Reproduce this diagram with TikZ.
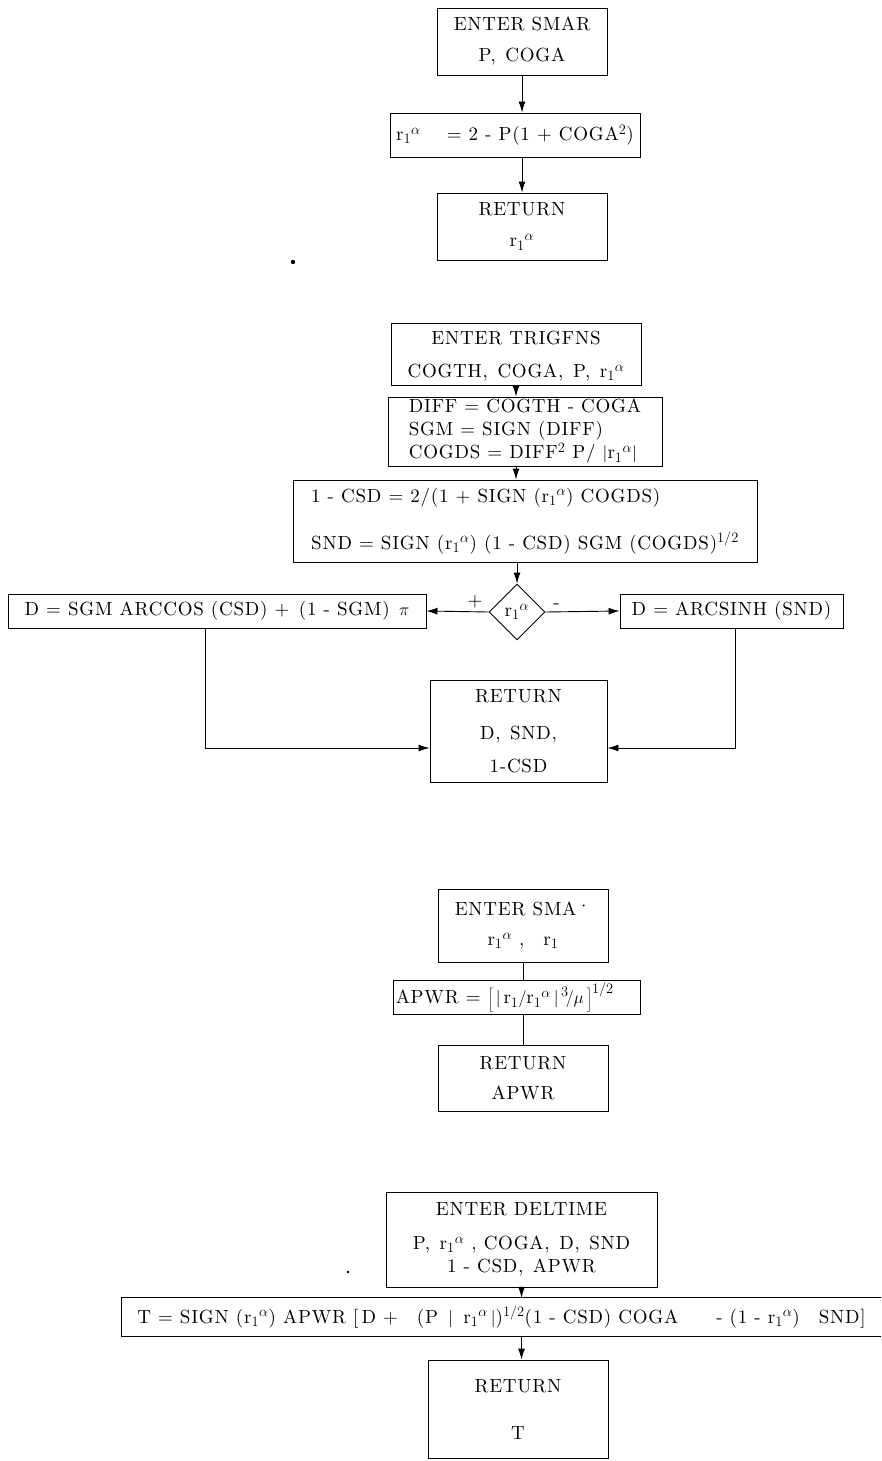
\documentclass[tikz,border=0pt]{standalone}
\usepackage{fontspec}
\setmainfont{lmroman10-regular.otf}[LetterSpace=4]
\usetikzlibrary{arrows.meta,shapes.geometric}
\DeclareMathSizes{19}{19}{15}{12}
\newcommand\fs{\fontsize{19}{22}\selectfont}
\newcommand\ra{r$_1{}^{\alpha}$}
\tikzset{
  box/.style={draw, line width=0.9pt, inner sep=0pt, font=\fs},
  arr/.style={line width=0.9pt, -{Latex[length=11pt,width=7pt]}},
  ln/.style={line width=0.9pt},
}
\begin{document}
\begin{tikzpicture}[x=1pt,y=-1pt]
\useasboundingbox (0,0) rectangle (881,1461);

% ---- SMAR
\node[box, minimum width=170, minimum height=67, align=center] (smarin) at (522,41.5) {ENTER SMAR\\[9pt]P,\enspace COGA};
\node[box, minimum width=250, minimum height=44] (smarf) at (515,135) {\ra\quad\ = 2 - P(1 + COGA$^2$)};
\node[box, minimum width=170, minimum height=67, align=center] (smarr) at (522,226.5) {RETURN\\[9pt]\ra};
\draw[arr] (smarin.south) -- (smarin.south |- smarf.north);
\draw[arr] (smarf.south -| smarr.north) -- (smarr.north);
\fill (293,262) circle (2.2);

% ---- TRIGFNS
\node[box, minimum width=250, minimum height=62, align=center] (trigin) at (516,354) {\rule{0pt}{18pt}ENTER TRIGFNS\\[11pt]COGTH,\enspace COGA,\enspace P,\enspace \ra};
\node[box, minimum width=274, minimum height=69, align=left, font=\fontsize{19}{23}\selectfont] (diff) at (525,431.5)
  {DIFF = COGTH - COGA\\SGM = SIGN (DIFF)\\COGDS = DIFF$^2$ P/ $\left|\mathrm{r}_1{}^{\alpha}\right|$};
\node[box, minimum width=464, minimum height=82, align=left] (csd) at (525,521)
  {1 - CSD = 2/(1 + SIGN (\ra) COGDS)\\[25pt]SND = SIGN (\ra) (1 - CSD) SGM (COGDS)$^{1/2}$};
\node[draw, diamond, line width=0.9pt, minimum width=56, minimum height=56, inner sep=0pt, font=\fs] (dec) at (517,612) {\ra};
\node[box, minimum width=418, minimum height=34] (dl) at (217,611) {D = SGM ARCCOS (CSD) +\enspace (1 - SGM)\enspace $\pi$};
\node[box, minimum width=223, minimum height=34] (dr) at (731.5,611) {D = ARCSINH (SND)};
\node[box, minimum width=177, minimum height=102, align=center] (ret2) at (518.5,731) {RETURN\\[15pt]D,\enspace SND,\\[11pt]1-CSD};
\draw[arr] (trigin.south) -- (trigin.south |- diff.north);
\draw[arr] (diff.south -| trigin.south) -- (trigin.south |- csd.north);
\draw[arr] (csd.south -| dec.north) -- (dec.north);
\draw[arr] (dec.west) -- node[above, pos=0.22, font=\fs]{+} (dl.east);
\draw[arr] (dec.east) -- node[above, pos=0.15, font=\fs]{-} (dr.west);
\coordinate (lb) at (205,748);
\coordinate (rb) at (735,748);
\draw[arr] (dl.south -| lb) -- (lb) -- (ret2.west |- lb);
\draw[arr] (dr.south -| rb) -- (rb) -- (ret2.east |- rb);

% ---- SMA
\node[box, minimum width=170, minimum height=73, align=center] (smain) at (523,925.5) {ENTER SMA\raisebox{3pt}{·}\\[8pt]\ra\ ,\quad r$_1$};
\node[box, minimum width=247, minimum height=34] (apwr) at (516.5,997) {};
\node[anchor=west, font=\fs, inner sep=0pt] (apwrt) at ([xshift=3]apwr.west)
  {APWR = $\biggl[\,\Bigl|\,\mathrm{r}_1/\mathrm{r}_1{}^{\alpha}\,\Bigr|^{\,3}\!/\mu\,\biggr]^{1/2}$};
\node[box, minimum width=170, minimum height=66, align=center] (smar2) at (523,1078) {RETURN\\[8pt]APWR};
\draw[ln] (smain.south) -- (smain.south |- apwr.north);
\draw[ln] (apwr.south -| smain.south) -- (smar2.north);

% ---- DELTIME
\node[box, minimum width=271, minimum height=95, align=center] (delin) at (521.5,1239.5)
  {ENTER DELTIME\\[12pt]P,\enspace \ra\ , COGA,\enspace D,\enspace SND\\[1pt]1 - CSD,\enspace APWR};
\node[minimum width=759, minimum height=38, inner sep=0pt, font=\fs] (tb) at (501.5,1317)
  {T = SIGN (\ra) APWR [\,D +\quad (P\, $|$\, \ra$\,|$)$^{1/2}$(1 - CSD) COGA\qquad- (1 - \ra)\quad SND]};
\draw[ln] (tb.north east) -- (tb.north west) -- (tb.south west) -- (tb.south east);
\node[box, minimum width=180, minimum height=98, align=center] (ret4) at (518,1409) {RETURN\\[25pt]T};
\draw[arr] (delin.south) -- (delin.south |- tb.north);
\draw[arr] (tb.south -| delin.south) -- (delin.south |- ret4.north);
\fill (348,1272) circle (1.3);
\end{tikzpicture}
\end{document}
